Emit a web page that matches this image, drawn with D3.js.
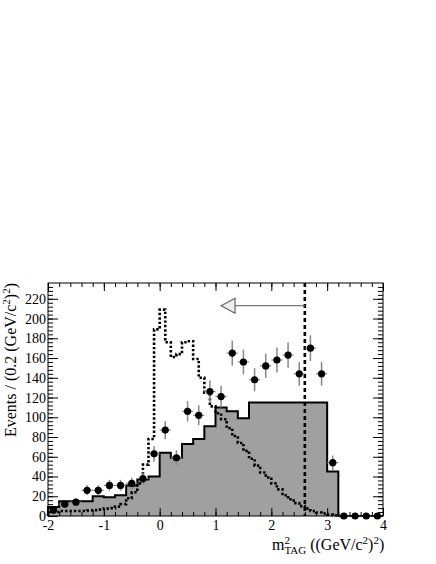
<!DOCTYPE html>
<html>
<head>
<meta charset="utf-8">
<script src="https://cdn.jsdelivr.net/npm/d3@7"></script>
<style>
  body { margin: 0; background: #fff; }
  text { font-family: "Liberation Serif", "DejaVu Serif", serif; fill: #000; }
</style>
</head>
<body>
<script>

// 0.2 wide bins, centres
var binCenters = [-1.9, -1.7, -1.5, -1.3, -1.1, -0.9, -0.7, -0.5, -0.3, -0.1,
                  0.1, 0.3, 0.5, 0.7, 0.9, 1.1, 1.3, 1.5, 1.7, 1.9,
                  2.1, 2.3, 2.5, 2.7, 2.9, 3.1, 3.3, 3.5, 3.7, 3.9];

// filled background histogram
var bkgCounts = [9, 15, 15, 15, 20, 19, 21, 31, 37, 40,
                 64, 59, 73, 78, 91, 110, 106, 99, 115, 115,
                 115, 115, 115, 115, 115, 45, 0, 0, 0, 0];

// data points
var dataCounts = [6, 12, 14, 26, 26, 31, 31, 33, 38, 63,
                  87, 59, 106, 102, 126, 121, 165, 156, 138, 152,
                  158, 163, 144, 170, 144, 54, 0, 0, 0, 0];

// dotted histogram, 0.1 wide bins, lower edges
var sigLow = [-2.0, -1.9, -1.8, -1.7, -1.6, -1.5, -1.4, -1.3, -1.2, -1.1,
              -1.0, -0.9, -0.8, -0.7, -0.6, -0.5, -0.4, -0.3, -0.2, -0.1,
              0.0, 0.1, 0.2, 0.3, 0.4, 0.5, 0.6, 0.7, 0.8, 0.9,
              1.0, 1.1, 1.2, 1.3, 1.4, 1.5, 1.6, 1.7, 1.8, 1.9,
              2.0, 2.1, 2.2, 2.3, 2.4, 2.5, 2.6, 2.7, 2.8, 2.9,
              3.0, 3.1, 3.2];
var sigCounts = [4, 4, 5, 5, 5, 5, 5, 5.5, 6, 6.5,
                 7.5, 8, 9.5, 12, 18, 24, 33, 52, 78, 189,
                 209, 176, 161, 164, 176, 177, 159, 140, 125, 111,
                 104, 98, 89, 81, 74, 66, 58, 51, 44, 39,
                 33, 27, 21, 17, 13, 10, 7.5, 5, 3.5, 2.5,
                 1.5, 0.7, 0];

var cutValue = 2.6,
    arrowY = 213,
    arrowTip = 1.1;

var xTicks = [-2, -1, 0, 1, 2, 3, 4],
    yTicks = [0, 20, 40, 60, 80, 100, 120, 140, 160, 180, 200, 220];

var width = 436,
    height = 564,
    margin = {top: 283, right: 53, bottom: 48, left: 48};

var iwidth = width - margin.left - margin.right,
    iheight = height - margin.top - margin.bottom;

var xScale = d3.scaleLinear().domain([-2, 4]).range([0, iwidth]);
var yScale = d3.scaleLinear().domain([0, 236]).range([iheight, 0]);

var svg = d3.select("body").append("svg")
    .attr("width", width)
    .attr("height", height)
  .append("g")
    .attr("transform", "translate(" + margin.left + "," + margin.top + ")");

// step path for a histogram given lower edges + width
function stepPoints(lows, counts, w) {
  var pts = [[lows[0], 0]];
  lows.forEach(function(l, i) {
    pts.push([l, counts[i]]);
    pts.push([l + w, counts[i]]);
  });
  pts.push([lows[lows.length - 1] + w, 0]);
  return pts;
}

var bkgLow = binCenters.map(function(c) { return c - 0.1; });
var bkgPts = stepPoints(bkgLow, bkgCounts, 0.2);

var line = d3.line()
    .x(function(d) { return xScale(d[0]); })
    .y(function(d) { return yScale(d[1]); });

svg.append("path")
    .datum(bkgPts)
    .attr("d", line)
    .attr("fill", "#a0a0a0")
    .attr("stroke", "#000")
    .attr("stroke-width", 2)
    .attr("stroke-linejoin", "miter");

// dotted histogram
svg.append("path")
    .datum(stepPoints(sigLow, sigCounts, 0.1))
    .attr("d", line)
    .attr("fill", "none")
    .attr("stroke", "#000")
    .attr("stroke-width", 2.6)
    .attr("stroke-dasharray", "2.4,2");

// cut line
svg.append("line")
    .attr("x1", xScale(cutValue)).attr("x2", xScale(cutValue))
    .attr("y1", 0).attr("y2", iheight)
    .attr("stroke", "#000")
    .attr("stroke-width", 2.6)
    .attr("stroke-dasharray", "4,3");

// arrow
var headLen = 0.25, headHalf = 7.5;
svg.append("line")
    .attr("x1", xScale(cutValue)).attr("x2", xScale(arrowTip + headLen))
    .attr("y1", yScale(arrowY)).attr("y2", yScale(arrowY))
    .attr("stroke", "#777")
    .attr("stroke-width", 1.2);
svg.append("path")
    .attr("d", "M" + xScale(arrowTip) + "," + yScale(arrowY) +
               "L" + xScale(arrowTip + headLen) + "," + (yScale(arrowY) - headHalf) +
               "L" + xScale(arrowTip + headLen) + "," + (yScale(arrowY) + headHalf) + "Z")
    .attr("fill", "#eee")
    .attr("stroke", "#666")
    .attr("stroke-width", 1.2);

// data points with errors
var pts = binCenters.map(function(c, i) { return {x: c, n: dataCounts[i]}; });
var pg = svg.append("g");
pg.selectAll(".ey")
    .data(pts.filter(function(d) { return d.n > 0; }))
    .enter().append("line")
    .attr("x1", function(d) { return xScale(d.x); })
    .attr("x2", function(d) { return xScale(d.x); })
    .attr("y1", function(d) { return yScale(d.n - Math.sqrt(d.n)); })
    .attr("y2", function(d) { return yScale(d.n + Math.sqrt(d.n)); })
    .attr("stroke", "#888")
    .attr("stroke-width", 1.5);
pg.selectAll(".ex")
    .data(pts)
    .enter().append("line")
    .attr("x1", function(d) { return xScale(d.x - 0.1); })
    .attr("x2", function(d) { return xScale(d.x + 0.1); })
    .attr("y1", function(d) { return yScale(d.n); })
    .attr("y2", function(d) { return yScale(d.n); })
    .attr("stroke", "#888")
    .attr("stroke-width", 1.2);
pg.selectAll("circle")
    .data(pts)
    .enter().append("circle")
    .attr("cx", function(d) { return xScale(d.x); })
    .attr("cy", function(d) { return yScale(d.n); })
    .attr("r", 3.6)
    .attr("fill", "#000");

// axes: ticks pointing inwards
var xMinor = d3.range(-2, 4.001, 0.2);
var yMinor = d3.range(0, 236, 4);

function addAxis(gen, transform) {
  var g = svg.append("g").attr("transform", transform).call(gen);
  g.select(".domain").remove();
  g.selectAll("line").attr("stroke", "#000");
  return g;
}

addAxis(d3.axisBottom(xScale).tickValues(xMinor).tickSize(-4).tickFormat(""), "translate(0," + iheight + ")");
addAxis(d3.axisTop(xScale).tickValues(xMinor).tickSize(-4).tickFormat(""), "translate(0,0)");
addAxis(d3.axisTop(xScale).tickValues(xTicks).tickSize(-8).tickFormat(""), "translate(0,0)");
var xg = addAxis(d3.axisBottom(xScale).tickValues(xTicks).tickSize(-8).tickPadding(3)
    .tickFormat(function(d) { return String(d); }), "translate(0," + iheight + ")");
xg.selectAll("text").attr("font-size", 14).attr("font-family", "Liberation Serif").attr("dy", "0.75em");

addAxis(d3.axisLeft(yScale).tickValues(yMinor).tickSize(-5).tickFormat(""), "translate(0,0)");
addAxis(d3.axisRight(yScale).tickValues(yMinor).tickSize(-5).tickFormat(""), "translate(" + iwidth + ",0)");
addAxis(d3.axisRight(yScale).tickValues(yTicks).tickSize(-10).tickFormat(""), "translate(" + iwidth + ",0)");
var yg = addAxis(d3.axisLeft(yScale).tickValues(yTicks).tickSize(-10).tickPadding(2)
    .tickFormat(function(d) { return String(d); }), "translate(0,0)");
yg.selectAll("text").attr("font-size", 14).attr("font-family", "Liberation Serif");

// frame
svg.append("rect")
    .attr("width", iwidth)
    .attr("height", iheight)
    .attr("fill", "none")
    .attr("stroke", "#000")
    .attr("stroke-width", 1);

// y label
var yl = svg.append("text")
    .attr("transform", "translate(-32,0) rotate(-90)")
    .attr("text-anchor", "end")
    .attr("font-size", 16);
yl.append("tspan").text("Events / (0.2 (GeV/c");
yl.append("tspan").attr("font-size", 11).attr("dy", -6).text("2");
yl.append("tspan").attr("dy", 6).text(")");
yl.append("tspan").attr("font-size", 11).attr("dy", -6).text("2");
yl.append("tspan").attr("dy", 6).text(")");

// x label
var xl = svg.append("text")
    .attr("x", 224)
    .attr("y", iheight + 34)
    .attr("font-size", 16);
xl.append("tspan").text("m");
xl.append("tspan").attr("font-size", 11).attr("dy", -6).text("2");
xl.append("tspan").attr("font-size", 11).attr("dx", -5.5).attr("dy", 10).text("TAG");
xl.append("tspan").attr("dy", -4).text(" ((GeV/c");
xl.append("tspan").attr("font-size", 11).attr("dy", -6).text("2");
xl.append("tspan").attr("dy", 6).text(")");
xl.append("tspan").attr("font-size", 11).attr("dy", -6).text("2");
xl.append("tspan").attr("dy", 6).text(")");

</script>
</body>
</html>
